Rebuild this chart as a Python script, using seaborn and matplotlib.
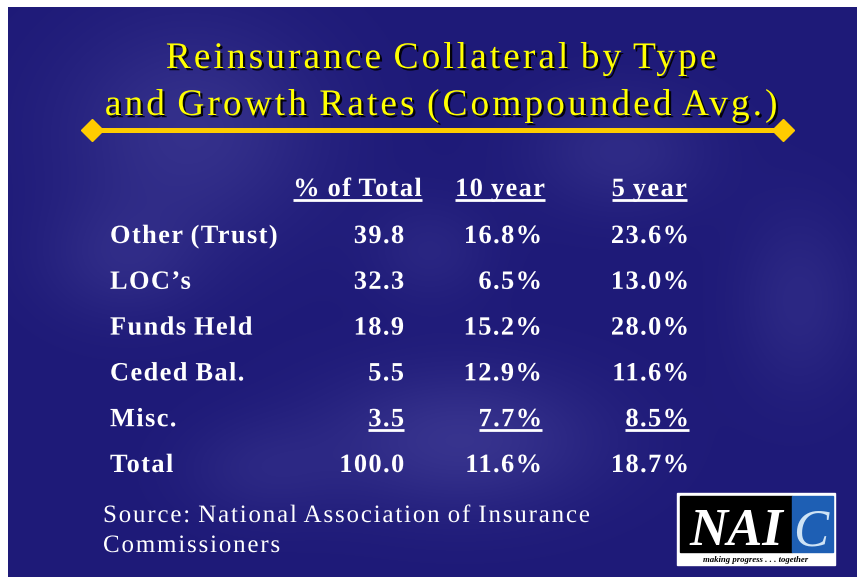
import matplotlib
matplotlib.use("Agg")
import matplotlib.pyplot as plt
import matplotlib.patheffects as pe
from matplotlib.patches import Rectangle
from matplotlib.path import Path
from matplotlib.colors import LinearSegmentedColormap
from matplotlib.transforms import IdentityTransform
import numpy as np
import seaborn as sns

# table data
headers = ["% of Total", "10 year", "5 year"]
row_labels = ["Other (Trust)", "LOC\u2019s", "Funds Held", "Ceded Bal.", "Misc.", "Total"]
pct_total = [39.8, 32.3, 18.9, 5.5, 3.5, 100.0]
ten_year = [16.8, 6.5, 15.2, 12.9, 7.7, 11.6]
five_year = [23.6, 13.0, 28.0, 11.6, 8.5, 18.7]

title_lines = ["Reinsurance Collateral by Type", "and Growth Rates (Compounded Avg.)"]
source = ["Source: National Association of Insurance", "Commissioners"]


class Tracking(pe.AbstractPathEffect):
    """spread the glyphs of a text path apart (letter spacing in pixels)"""

    def __init__(self, px, ha="left", inner=None):
        super().__init__()
        self.px = px
        self.ha = ha
        self.inner = inner or [pe.Normal()]

    def draw_path(self, renderer, gc, tpath, affine, rgbFace=None):
        path = affine.transform_path(tpath)
        verts, codes = path.vertices.copy(), path.codes
        if codes is None:
            codes = np.full(len(verts), Path.LINETO)
        starts = list(np.flatnonzero(codes == Path.MOVETO)) + [len(verts)]
        groups, cur = [], None
        for a, b in zip(starts[:-1], starts[1:]):
            lo, hi = verts[a:b, 0].min(), verts[a:b, 0].max()
            if cur is not None:
                ov = min(hi, cur[1]) - max(lo, cur[0])
                if ov > 0.3 * min(hi - lo, cur[1] - cur[0]):
                    cur[0], cur[1] = min(lo, cur[0]), max(hi, cur[1])
                    cur[2].append((a, b))
                    continue
            cur = [lo, hi, [(a, b)]]
            groups.append(cur)
        n = len(groups)
        shift0 = {"left": 0, "center": -(n - 1) * self.px / 2, "right": -(n - 1) * self.px}[self.ha]
        for k, g in enumerate(groups):
            for a, b in g[2]:
                verts[a:b, 0] += shift0 + k * self.px
        newpath = Path(verts, codes)
        for eff in self.inner:
            eff.draw_path(renderer, gc, newpath, IdentityTransform(), rgbFace)


sns.set_theme(style="white")
plt.rcParams["font.family"] = ["Liberation Serif", "DejaVu Serif"]

fig = plt.figure(figsize=(8.57, 5.77), dpi=100)
fig.patch.set_facecolor("white")
ax = fig.add_axes([0, 0, 1, 1])

# slide background: dark navy with a few soft lighter patches
gx, gy = np.meshgrid(np.arange(8, 857, 4), np.arange(7, 577, 4))
light = np.zeros_like(gx, dtype=float)
for cx, cy, rx, ry, w in [(190, 130, 130, 110, 0.8), (120, 260, 80, 60, 0.5), (460, 440, 140, 70, 0.9),
                          (620, 150, 90, 60, 0.6), (800, 300, 60, 90, 0.5), (430, 250, 60, 50, 0.4),
                          (260, 470, 80, 50, 0.4)]:
    light += w * np.exp(-(((gx - cx) / rx) ** 2 + ((gy - cy) / ry) ** 2))
cmap = LinearSegmentedColormap.from_list("slide", ["#1e1a78", "#3a3690"])
ax.imshow(np.clip(light, 0, 1), cmap=cmap, vmin=0, vmax=1, extent=(8, 857, 577, 7),
          interpolation="bilinear", zorder=0, aspect="auto")
ax.set_xlim(0, 857)
ax.set_ylim(577, 0)
ax.axis("off")

# title
for y, line in zip([68, 115], title_lines):
    eff = Tracking(3.0, "center", [pe.SimplePatchShadow(offset=(1.6, -1.6), shadow_rgbFace="black", alpha=0.9),
                                   pe.Normal()])
    ax.text(441, y, line, color="#ffff00", fontsize=27, ha="center", va="baseline", path_effects=[eff])

gold = "#ffcc00"
ax.plot([92, 783], [130, 130], color=gold, lw=3.6, solid_capstyle="butt")
ax.plot([92, 783], [130, 130], ls="none", marker="D", ms=11, color=gold, mec=gold)

# table
trk = 1.4
font = dict(color="white", fontsize=19, fontweight="bold", va="baseline")
col_right = [404, 542, 689]
header_right = [422, 545, 687]
underlined = []
for x, h in zip(header_right, headers):
    underlined.append(ax.text(x, 196, h, ha="right", path_effects=[Tracking(trk, "right")], **font))

y0, dy = 243, 45.8
for i, lab in enumerate(row_labels):
    y = y0 + i * dy
    ax.text(110, y, lab, ha="left", path_effects=[Tracking(trk, "left")], **font)
    vals = [f"{pct_total[i]:.1f}", f"{ten_year[i]:.1f}%", f"{five_year[i]:.1f}%"]
    for x, v in zip(col_right, vals):
        t = ax.text(x, y, v, ha="right", path_effects=[Tracking(trk, "right")], **font)
        if lab == "Misc.":
            underlined.append(t)

# source
for y, line in zip([522, 552], source):
    ax.text(103, y, line, color="white", fontsize=18, ha="left", va="baseline",
            path_effects=[Tracking(1.8, "left")])

# logo
ax.add_patch(Rectangle((677, 493), 158, 72, color="white", zorder=2))
ax.add_patch(Rectangle((680, 496), 112, 56, color="black", zorder=3))
ax.add_patch(Rectangle((792, 496), 41, 56, color="#1e5fb4", zorder=3))
ax.text(736, 545, "NAI", color="white", fontsize=38, fontweight="bold", fontstyle="italic",
        ha="center", va="baseline", zorder=4)
ax.text(811, 545, "C", color="#cfe3f5", fontsize=38, fontstyle="italic",
        ha="center", va="baseline", zorder=4)
ax.text(756, 562, "making progress . . . together", color="black", fontsize=6.3,
        fontweight="bold", fontstyle="italic", ha="center", va="baseline", zorder=4)

# underlines from rendered text extents (widened for the letter spacing)
fig.canvas.draw()
r = fig.canvas.get_renderer()
inv = ax.transData.inverted()
for t in underlined:
    bb = t.get_window_extent(r)
    (x0, _), (x1, _) = inv.transform([(bb.x0, bb.y0), (bb.x1, bb.y0)])
    n = len(t.get_text().replace(" ", ""))
    x0 -= (n - 1) * trk
    _, ty = t.get_position()
    ax.plot([x0, x1], [ty + 4, ty + 4], color="white", lw=2, solid_capstyle="butt")

fig.savefig("out.png", dpi=100, facecolor=fig.get_facecolor())
